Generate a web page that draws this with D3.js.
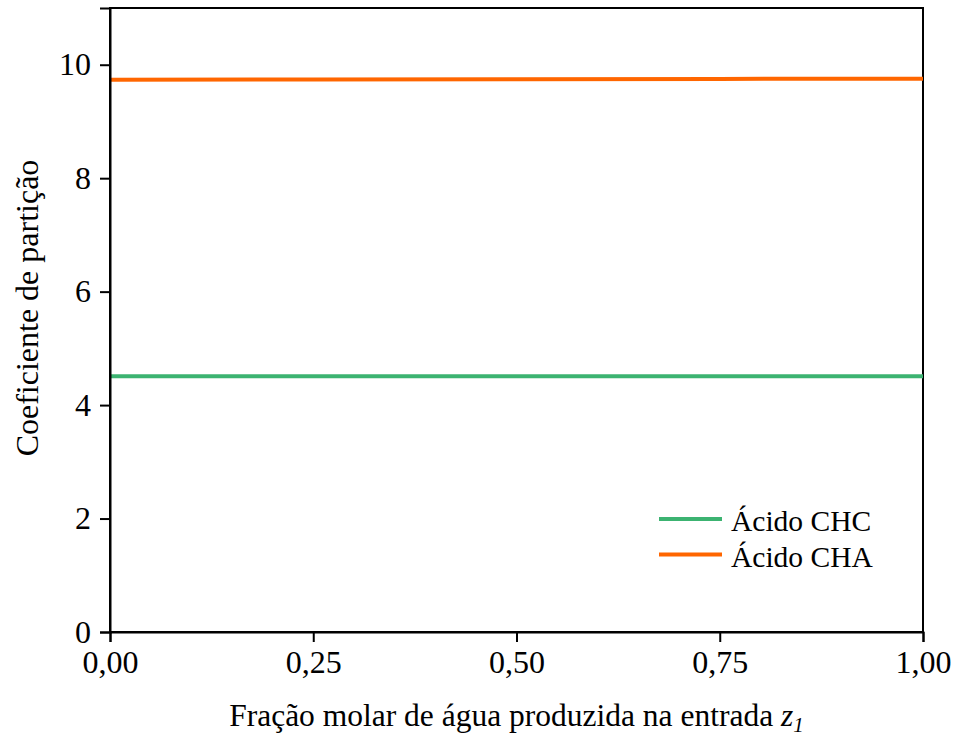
<!DOCTYPE html>
<html>
<head>
<meta charset="utf-8">
<script src="https://cdn.jsdelivr.net/npm/d3@7"></script>
<style>
  html, body { margin: 0; padding: 0; background: #fff; }
</style>
</head>
<body>
<svg id="chart" width="955" height="742"></svg>
<script>
// Water mole fraction in the feed
const z1 = [0.0, 0.25, 0.5, 0.75, 1.0];
// Partition coefficients per acid
const chcValues = [4.51, 4.51, 4.51, 4.51, 4.51];
const chaValues = [9.735, 9.74, 9.745, 9.75, 9.755];
const seriesNames = ["Ácido CHC", "Ácido CHA"];
const seriesColors = ["#3cb371", "#ff6600"];
const xTicks = [0, 0.25, 0.5, 0.75, 1.0];
const yTicks = [0, 2, 4, 6, 8, 10];

const FONT = "'Liberation Serif', 'Times New Roman', serif";

const series = [
  { name: seriesNames[0], color: seriesColors[0], values: chcValues },
  { name: seriesNames[1], color: seriesColors[1], values: chaValues }
];

const svg = d3.select("#chart");
const margin = { left: 110, right: 32, top: 8, bottom: 110 };
const W = 955, H = 742;
const x = d3.scaleLinear().domain([0, 1]).range([margin.left, W - margin.right]);
const y = d3.scaleLinear().domain([0, 11]).range([H - margin.bottom, margin.top]);

// Plot frame
svg.append("rect")
  .attr("x", x(0)).attr("y", y(11))
  .attr("width", x(1) - x(0)).attr("height", y(0) - y(11))
  .attr("fill", "none").attr("stroke", "#000").attr("stroke-width", 2);

// Series lines
const line = d3.line().x((d, i) => x(z1[i])).y(d => y(d));
series.forEach(s => {
  svg.append("path")
    .datum(s.values)
    .attr("d", line)
    .attr("fill", "none")
    .attr("stroke", s.color)
    .attr("stroke-width", 4);
});

const fmt = d => d3.format(".2f")(d).replace(".", ",");

// Axes
const xAxis = d3.axisBottom(x).tickValues(xTicks).tickFormat(fmt).tickSize(10).tickPadding(8);
const gx = svg.append("g").attr("transform", `translate(0,${y(0)})`).call(xAxis);
const yAxis = d3.axisLeft(y).tickValues(yTicks).tickFormat(d3.format("d")).tickSize(10).tickPadding(9);
const gy = svg.append("g").attr("transform", `translate(${x(0)},0)`).call(yAxis);
[gx, gy].forEach(g => {
  g.attr("font-family", FONT).attr("font-size", 32);
  g.select(".domain").attr("stroke", "#000").attr("stroke-width", 2);
  g.selectAll(".tick line").attr("stroke", "#000").attr("stroke-width", 2);
  g.selectAll(".tick text").attr("fill", "#000");
});

// Axis titles
const xt = svg.append("text")
  .attr("x", (x(0) + x(1)) / 2).attr("y", 726)
  .attr("text-anchor", "middle")
  .attr("font-family", FONT).attr("font-size", 31.5);
xt.append("tspan").text("Fração molar de água produzida na entrada ");
xt.append("tspan").attr("font-style", "italic").text("z");
xt.append("tspan").attr("font-style", "italic").attr("font-size", 21).attr("dy", 6).text("1");

svg.append("text")
  .attr("transform", `translate(38,${(y(0) + y(11)) / 2 - 12}) rotate(-90)`)
  .attr("text-anchor", "middle")
  .attr("font-family", FONT).attr("font-size", 32)
  .text("Coeficiente de partição");

// Legend
const leg = svg.append("g");
series.forEach((s, i) => {
  const ly = 519 + i * 35.5;
  leg.append("line")
    .attr("x1", 659).attr("x2", 722).attr("y1", ly).attr("y2", ly)
    .attr("stroke", s.color).attr("stroke-width", 4);
  leg.append("text")
    .attr("x", 731).attr("y", ly + 12)
    .attr("font-family", FONT).attr("font-size", 29.5)
    .text(s.name);
});
</script>
</body>
</html>
